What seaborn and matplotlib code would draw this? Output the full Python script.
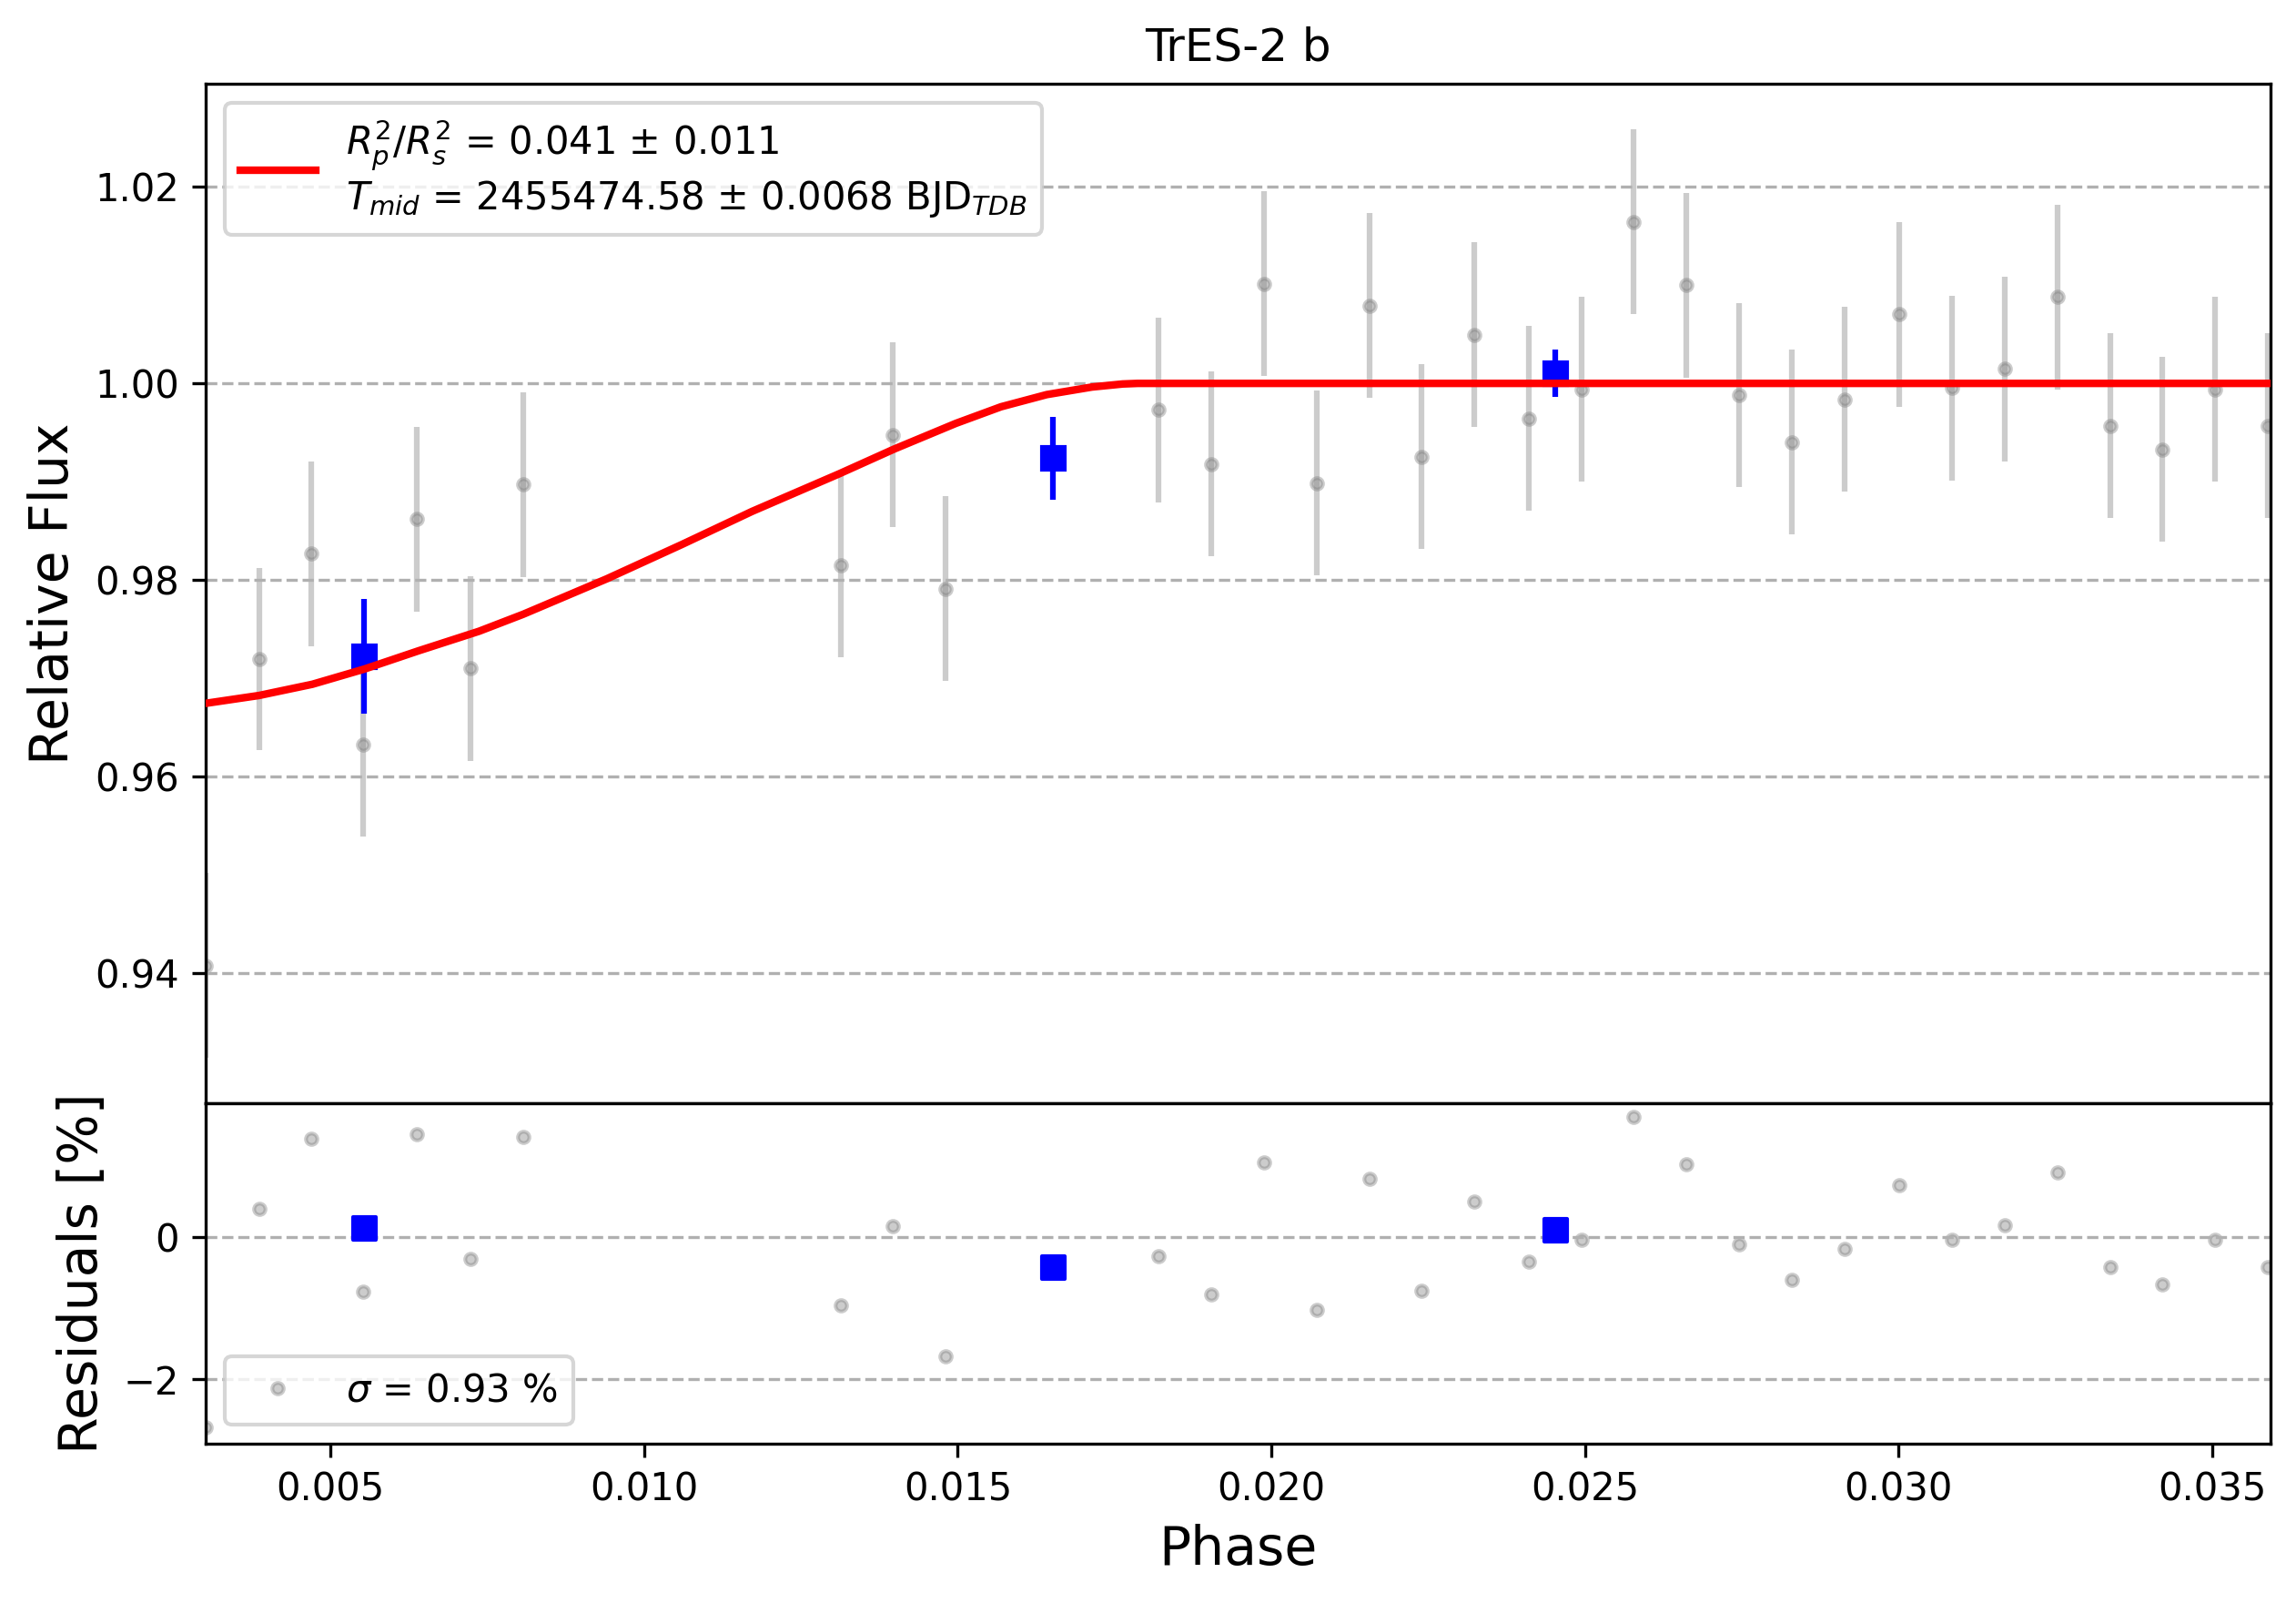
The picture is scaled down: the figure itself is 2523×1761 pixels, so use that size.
import numpy as np
import pandas as pd
import matplotlib
matplotlib.use("Agg")
import matplotlib.pyplot as plt
from matplotlib.lines import Line2D
import seaborn as sns

# ---------------- data ----------------
title = "TrES-2 b"

phase = [0.00301, 0.00387, 0.00469, 0.00552, 0.00638, 0.00723, 0.00807,
         0.01313, 0.01397, 0.01481,
         0.01820, 0.01904, 0.01988, 0.02072, 0.02156, 0.02240, 0.02324,
         0.02410, 0.02494, 0.02578, 0.02662, 0.02746, 0.02830, 0.02914,
         0.03001, 0.03085, 0.03169, 0.03253, 0.03337, 0.03421, 0.03505,
         0.03589]
flux = [0.94075, 0.97194, 0.98266, 0.96328, 0.98620, 0.97099, 0.98969,
        0.98149, 0.99478, 0.97910,
        0.99731, 0.99179, 1.01015, 0.98985, 1.00791, 0.99254, 1.00493,
        0.99642, 0.99940, 1.01642, 1.01000, 0.99881, 0.99403, 0.99836,
        1.00701, 0.99955, 1.00149, 1.00881, 0.99567, 0.99328, 0.99940,
        0.99567]
flux_err = [0.0094, 0.0093, 0.0094, 0.0094, 0.0094, 0.0094, 0.0094,
            0.0094, 0.0094, 0.0094,
            0.0094, 0.0094, 0.0094, 0.0094, 0.0094, 0.0094, 0.0094,
            0.0094, 0.0094, 0.0094, 0.0094, 0.0094, 0.0094, 0.0094,
            0.0094, 0.0094, 0.0094, 0.0094, 0.0094, 0.0094, 0.0094,
            0.0094]
residuals = [-2.67, 0.40, 1.375, -0.77, 1.44, -0.31, 1.40,
             -0.96, 0.15, -1.67,
             -0.27, -0.81, 1.04, -1.02, 0.81, -0.75, 0.50,
             -0.35, -0.04, 1.69, 1.02, -0.10, -0.60, -0.17,
             0.73, -0.04, 0.17, 0.90, -0.42, -0.67, -0.04,
             -0.42]

bin_phase = [0.00554, 0.01651, 0.02452]
bin_flux = [0.97222, 0.99238, 1.00104]
bin_err = [0.0058, 0.0042, 0.0024]
bin_resid = [0.12, -0.42, 0.10]

model_phase = [0.00301, 0.00386, 0.00471, 0.00554, 0.00640, 0.00737, 0.00807,
               0.00940, 0.01060, 0.01172, 0.01311, 0.01398, 0.01497, 0.01569,
               0.01642, 0.01714, 0.01763, 0.01787, 0.02500, 0.03593]
model_flux = [0.96744, 0.96824, 0.96938, 0.97093, 0.97278, 0.97478, 0.97650,
              0.98010, 0.98360, 0.98697, 0.99080, 0.99330, 0.99593, 0.99762,
              0.99886, 0.99963, 0.99994, 1.00000, 1.00000, 1.00000]

legend_main = (r"$R^{2}_{p}/R^{2}_{s}$ = 0.041 $\pm$ 0.011" + "\n" +
               r"$T_{mid}$ = 2455474.58 $\pm$ 0.0068 BJD$_{TDB}$")
legend_res = r"$\sigma$ = 0.93 %"

xlim = (0.00301, 0.03593)
ylim_main = (0.9267, 1.0305)
ylim_res = (-2.90, 1.87)

# ---------------- figure ----------------
fig = plt.figure(figsize=(2523 / 300, 1761 / 300), dpi=300)
gs = fig.add_gridspec(2, 1, height_ratios=[3, 1], hspace=0,
                      left=0.0896, right=0.9889, top=0.9478, bottom=0.0994)
ax_lc = fig.add_subplot(gs[0])
ax_res = fig.add_subplot(gs[1], sharex=ax_lc)

df = pd.DataFrame({"phase": phase, "flux": flux, "err": flux_err, "res": residuals})
dm = pd.DataFrame({"phase": model_phase, "flux": model_flux})
db = pd.DataFrame({"phase": bin_phase, "flux": bin_flux, "err": bin_err, "res": bin_resid})

# main light curve
ax_lc.errorbar(df["phase"], df["flux"], yerr=df["err"], fmt="o", color="gray",
               ms=3, alpha=0.4, zorder=1)
ax_lc.errorbar(db["phase"], db["flux"], yerr=db["err"], fmt="s", color="blue",
               ms=6, zorder=2)
sns.lineplot(data=dm, x="phase", y="flux", ax=ax_lc, color="red", lw=2,
             zorder=3, legend=False)
ax_lc.grid(True, axis="y", ls="--")
ax_lc.set_ylim(*ylim_main)
ax_lc.set_yticks([0.94, 0.96, 0.98, 1.00, 1.02])
ax_lc.set_title(title)
ax_lc.set_ylabel("Relative Flux", fontsize=14)
ax_lc.set_xlabel("")
ax_lc.tick_params(labelbottom=False)
ax_lc.legend(handles=[Line2D([], [], color="red", lw=2)], labels=[legend_main],
             loc="upper left")

# residuals
sns.scatterplot(data=df, x="phase", y="res", ax=ax_res, color="gray",
                edgecolor="gray", s=9, linewidth=1.0, alpha=0.4, zorder=1,
                legend=False)
sns.scatterplot(data=db, x="phase", y="res", ax=ax_res, color="blue",
                edgecolor="blue", marker="s", s=36, linewidth=1.0, zorder=2,
                legend=False)
ax_res.grid(True, axis="y", ls="--")
ax_res.set_ylim(*ylim_res)
ax_res.set_yticks([-2, 0])
ax_res.set_xlim(*xlim)
ax_res.set_xticks([0.005, 0.010, 0.015, 0.020, 0.025, 0.030, 0.035])
ax_res.set_xticklabels(["0.005", "0.010", "0.015", "0.020", "0.025", "0.030", "0.035"])
ax_res.set_xlabel("Phase", fontsize=14)
ax_res.set_ylabel("Residuals [%]", fontsize=14)
ax_res.legend(handles=[Line2D([], [], marker="o", color="gray", ls="", ms=3, alpha=0.4)],
              labels=[legend_res], loc="lower left")

fig.savefig("out.png", dpi=300)
